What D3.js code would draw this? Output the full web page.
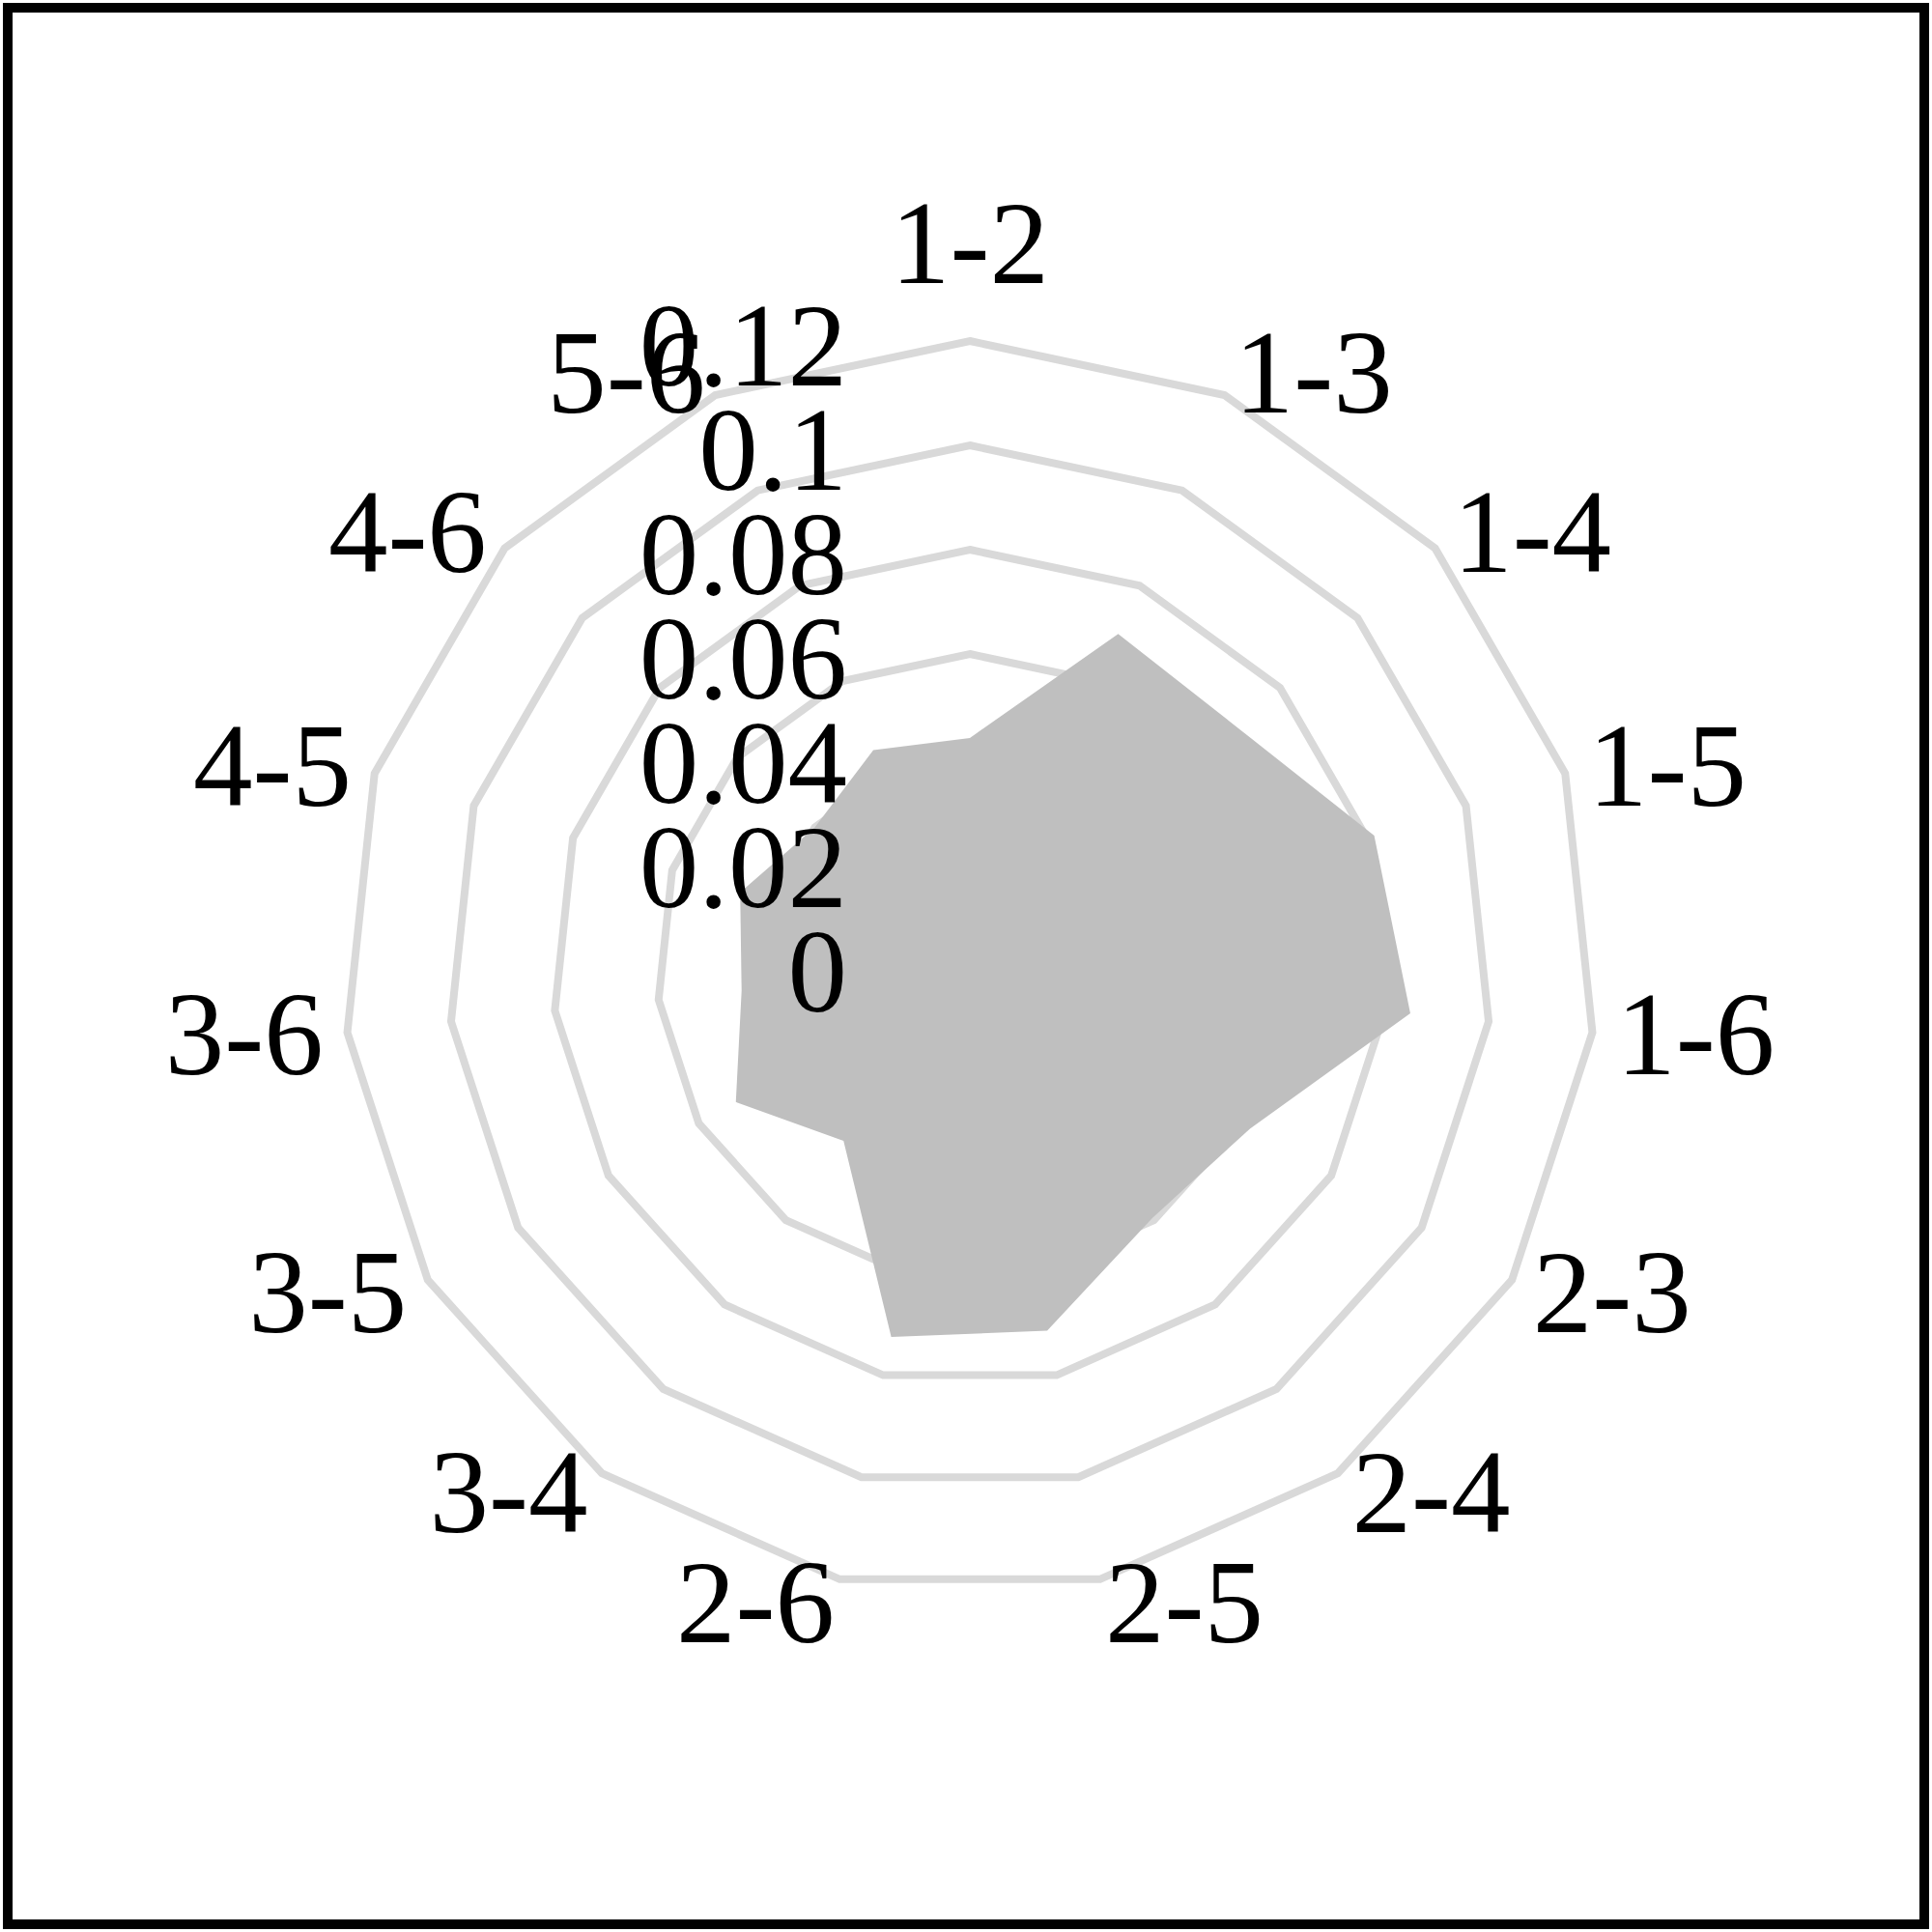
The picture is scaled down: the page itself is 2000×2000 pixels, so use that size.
<!DOCTYPE html>
<meta charset="utf-8">
<head>
    <title>Radar of pair values</title>
</head>

<style>
    body {
        margin: 0;
        background: #ffffff;
    }
    .grid {
        fill: none;
        stroke: #d9d9d9;
        stroke-width: 8px;
    }
    .area {
        fill: #bfbfbf;
        stroke: none;
    }
    text {
        font-family: "Liberation Serif", "Times New Roman", serif;
        font-size: 123px;
        fill: #000000;
    }
</style>

<script src="https://d3js.org/d3.v7.min.js"></script>

<div id="my_viz"></div>

<script>

    // categories round the radar, clockwise from the top
    var pairs = ["1-2", "1-3", "1-4", "1-5", "1-6", "2-3", "2-4", "2-5",
                 "2-6", "3-4", "3-5", "3-6", "4-5", "4-6", "5-6"];

    // values
    var values = [0.0439, 0.0699, 0.0688, 0.0815, 0.0849, 0.0620, 0.0595, 0.0713,
                  0.0725, 0.0412, 0.0518, 0.0440, 0.0463, 0.0400, 0.0455];

    // rings / tick labels
    var ticks = [0, 0.02, 0.04, 0.06, 0.08, 0.1, 0.12];

    var width = 2000, height = 2000,
        cx = 1004, cy = 1001,
        radius = 648;

    var svg = d3.select("#my_viz")
        .append("svg")
        .attr("width", width)
        .attr("height", height);

    // chart border
    svg.append("rect")
        .attr("x", 8)
        .attr("y", 8)
        .attr("width", width - 16)
        .attr("height", height - 16)
        .attr("fill", "#ffffff")
        .attr("stroke", "#000000")
        .attr("stroke-width", 10);

    var g = svg.append("g")
        .attr("transform", "translate(" + cx + "," + cy + ")");

    var r = d3.scaleLinear()
        .domain([0, d3.max(ticks)])
        .range([0, radius]);

    var angle = d3.scaleLinear()
        .domain([0, pairs.length])
        .range([0, 2 * Math.PI]);

    var radar = d3.lineRadial()
        .angle(function (d, i) { return angle(i); })
        .radius(function (d) { return r(d); })
        .curve(d3.curveLinearClosed);

    // gridline rings
    g.selectAll(".grid")
        .data(ticks.filter(function (t) { return t > 0; }))
        .enter()
        .append("path")
        .attr("class", "grid")
        .attr("d", function (t) { return radar(pairs.map(function () { return t; })); });

    // the filled series
    g.append("path")
        .attr("class", "area")
        .attr("d", radar(values));

    // value labels up the vertical axis
    g.selectAll(".tick")
        .data(ticks)
        .enter()
        .append("text")
        .attr("class", "tick")
        .attr("x", -127)
        .attr("y", function (d) { return -r(d) + 46; })
        .attr("text-anchor", "end")
        .text(function (d) { return String(d); });

    // category labels
    var labelR = radius + 25;
    g.selectAll(".cat")
        .data(pairs)
        .enter()
        .append("text")
        .attr("class", "cat")
        .attr("x", function (d, i) { return labelR * Math.sin(angle(i)); })
        .attr("y", function (d, i) {
            var s = Math.sin(angle(i)), c = Math.cos(angle(i));
            if (Math.abs(s) < 0.05) { return -labelR * c - 35; }
            return -labelR * c + 41;
        })
        .attr("text-anchor", function (d, i) {
            var s = Math.sin(angle(i));
            if (Math.abs(s) < 0.05) return "middle";
            return s > 0 ? "start" : "end";
        })
        .text(function (d) { return d; });

</script>
